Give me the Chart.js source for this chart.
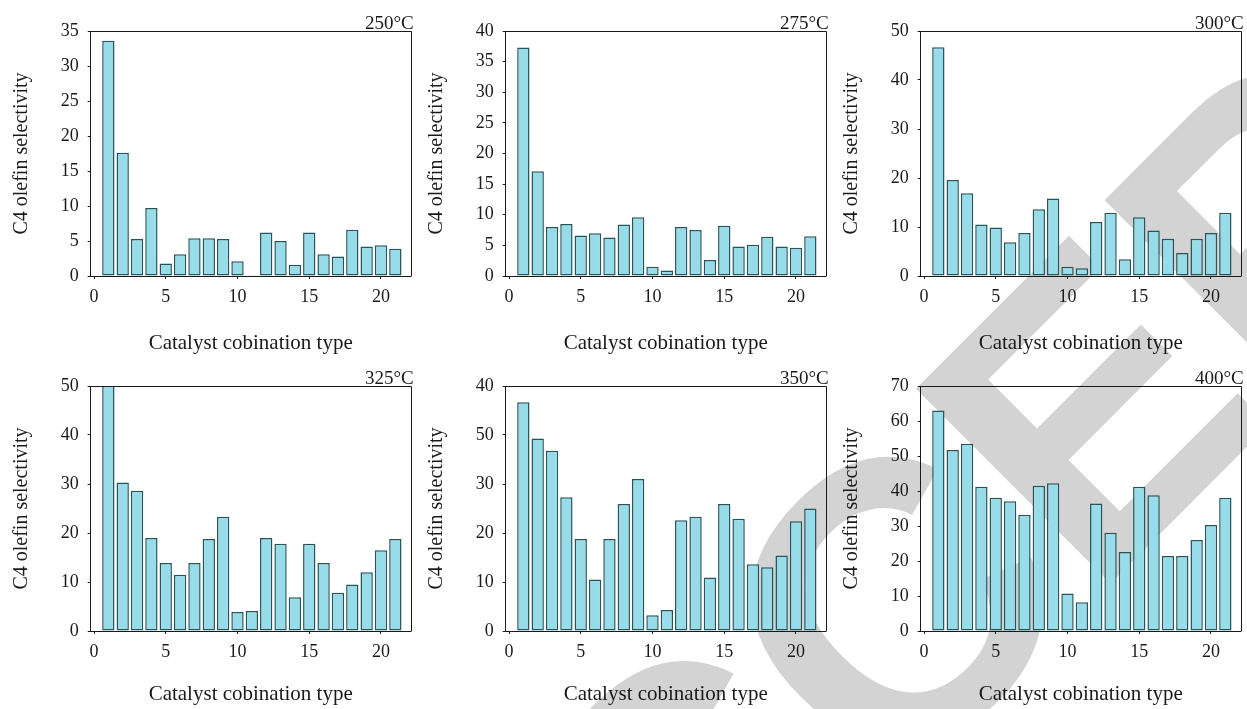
<!DOCTYPE html>
<html>
<head>
<meta charset="utf-8">
<script src="https://cdn.jsdelivr.net/npm/chart.js@4.4.1/dist/chart.umd.min.js"></script>
<style>
  body { margin: 0; background: #fff; width: 1247px; height: 709px; overflow: hidden; position: relative; }
  #wm { position: absolute; left: 0; top: 0; z-index: 0; }
  .panel { position: absolute; width: 415px; height: 356px; z-index: 1; }
</style>
</head>
<body>
<canvas id="wm" width="1247" height="709"></canvas>
<div class="panel" style="left:0;top:0"><canvas id="c0"></canvas></div>
<div class="panel" style="left:415px;top:0"><canvas id="c1"></canvas></div>
<div class="panel" style="left:830px;top:0"><canvas id="c2"></canvas></div>
<div class="panel" style="left:0;top:355px"><canvas id="c3"></canvas></div>
<div class="panel" style="left:415px;top:355px"><canvas id="c4"></canvas></div>
<div class="panel" style="left:830px;top:355px"><canvas id="c5"></canvas></div>
<script>
// catalyst combination numbers (x axis)
const categories = [1, 2, 3, 4, 5, 6, 7, 8, 9, 10, 11, 12, 13, 14, 15, 16, 17, 18, 19, 20, 21];
const xTicks = [0, 5, 10, 15, 20];
const temps = ['250°C', '275°C', '300°C', '325°C', '350°C', '400°C'];

// C4 olefin selectivity
const sel250 = [33.6, 17.6, 5.3, 9.7, 1.8, 3.1, 5.4, 5.4, 5.3, 2.1, 0.1, 6.2, 5.0, 1.6, 6.2, 3.1, 2.8, 6.6, 4.2, 4.4, 3.9];
const sel275 = [37.3, 17.1, 8.0, 8.5, 6.6, 7.0, 6.3, 8.4, 9.6, 1.5, 0.9, 8.0, 7.5, 2.6, 8.2, 4.8, 5.1, 6.4, 4.8, 4.6, 6.5];
const sel300 = [46.7, 19.6, 16.9, 10.5, 9.9, 6.9, 8.8, 13.6, 15.8, 1.9, 1.6, 11.0, 12.9, 3.4, 12.0, 9.3, 7.6, 4.7, 7.6, 8.8, 12.9];
const sel325 = [51.0, 30.3, 28.6, 19.0, 13.9, 11.5, 13.9, 18.8, 23.3, 3.9, 4.1, 19.0, 17.8, 6.9, 17.8, 13.9, 7.8, 9.5, 12.0, 16.5, 18.8];
const sel350 = [46.7, 39.3, 36.8, 27.3, 18.8, 10.5, 18.8, 25.9, 31.0, 3.2, 4.3, 22.6, 23.3, 10.9, 25.9, 22.9, 13.6, 13.0, 15.4, 22.4, 25.0];
const sel400 = [63.0, 51.7, 53.5, 41.2, 38.1, 37.1, 33.2, 41.5, 42.2, 10.7, 8.2, 36.4, 28.1, 22.6, 41.2, 38.8, 21.4, 21.4, 26.0, 30.3, 38.1];

// y ticks per panel (350°C panel has its labels printed out of order in the original)
const yTicks250 = [0, 5, 10, 15, 20, 25, 30, 35];
const yTicks275 = [0, 5, 10, 15, 20, 25, 30, 35, 40];
const yTicks300 = [0, 10, 20, 30, 40, 50];
const yTicks325 = [0, 10, 20, 30, 40, 50];
const yTicks350 = [0, 10, 20, 30, 40, 50];
const yLabels350 = ['0', '10', '20', '30', '50', '40'];
const yTicks400 = [0, 10, 20, 30, 40, 50, 60, 70];

const panels = [
  { temp: temps[0], values: sel250, yTicks: yTicks250 },
  { temp: temps[1], values: sel275, yTicks: yTicks275 },
  { temp: temps[2], values: sel300, yTicks: yTicks300 },
  { temp: temps[3], values: sel325, yTicks: yTicks325 },
  { temp: temps[4], values: sel350, yTicks: yTicks350, yLabels: yLabels350 },
  { temp: temps[5], values: sel400, yTicks: yTicks400 }
];

const FONT = 'Liberation Serif';
const INK = '#1a1a1a';

// grey "ACCEPTED" stamp behind the charts, second C centred near (890, 605)
(function drawStamp() {
  const w = document.getElementById('wm').getContext('2d');
  w.font = 'bold 400px "Liberation Sans"';
  const lead = w.measureText('AC').width + w.measureText('C').width / 2;
  const capMid = w.measureText('C').actualBoundingBoxAscent / 2;
  w.translate(890, 605);
  w.rotate(-Math.PI / 4);
  w.fillStyle = '#d3d3d3';
  w.fillText('ACCEPTED', -lead, capMid);
})();

// box around the plot + temperature in the top right corner
const framePlugin = {
  id: 'frame',
  afterDraw(chart, args, opts) {
    const { ctx, chartArea: a } = chart;
    ctx.save();
    ctx.strokeStyle = INK;
    ctx.lineWidth = 1;
    ctx.beginPath();
    ctx.moveTo(Math.round(a.left) - 0.5, Math.round(a.top) + 0.5);
    ctx.lineTo(Math.round(a.right) + 0.5, Math.round(a.top) + 0.5);
    ctx.lineTo(Math.round(a.right) + 0.5, Math.round(a.bottom) + 0.5);
    ctx.stroke();
    ctx.fillStyle = INK;
    ctx.font = '19px "' + FONT + '"';
    ctx.textAlign = 'right';
    ctx.textBaseline = 'alphabetic';
    ctx.fillText(opts.text, a.right + 3, a.top - 2);
    ctx.restore();
  }
};

panels.forEach((p, i) => {
  const row = Math.floor(i / 3);
  new Chart(document.getElementById('c' + i), {
    type: 'bar',
    plugins: [framePlugin],
    data: {
      datasets: [{
        data: categories.map((c, k) => ({ x: c, y: p.values[k] })),
        backgroundColor: '#97dce8',
        borderColor: '#27555b',
        borderWidth: 1.5,
        borderSkipped: false,
        barPercentage: 0.86,
        categoryPercentage: 1
      }]
    },
    options: {
      responsive: true,
      maintainAspectRatio: false,
      animation: false,
      layout: { padding: { left: 0, top: 31, right: 4.3, bottom: 0 } },
      plugins: {
        legend: { display: false },
        tooltip: { enabled: false },
        frame: { text: p.temp }
      },
      scales: {
        x: {
          type: 'linear',
          min: -0.23,
          max: 22.07,
          offset: false,
          afterBuildTicks: s => { s.ticks = xTicks.map(v => ({ value: v })); },
          afterFit: s => { s.height = 80; },
          ticks: { color: INK, padding: 7, maxRotation: 0, font: { family: FONT, size: 18 } },
          grid: { offset: false, drawOnChartArea: false, drawTicks: true, tickLength: 3, tickColor: INK },
          border: { display: true, color: INK, width: 1 },
          title: {
            display: true,
            text: 'Catalyst cobination type',
            color: INK,
            font: { family: FONT, size: 21 },
            padding: { top: 0, bottom: row === 0 ? 0 : 4 }
          }
        },
        y: {
          min: 0,
          max: p.yTicks[p.yTicks.length - 1],
          afterBuildTicks: s => { s.ticks = p.yTicks.map(v => ({ value: v })); },
          afterFit: s => { s.width = 90.7; },
          ticks: {
            color: INK,
            padding: 9,
            font: { family: FONT, size: 18 },
            callback: (v, k) => p.yLabels ? p.yLabels[k] : String(v)
          },
          grid: { drawOnChartArea: false, drawTicks: true, tickLength: 3, tickColor: INK },
          border: { display: true, color: INK, width: 1 },
          title: {
            display: true,
            text: 'C4 olefin selectivity',
            color: INK,
            font: { family: FONT, size: 20 },
            padding: { top: 10, bottom: 0 }
          }
        }
      }
    }
  });
});
</script>
</body>
</html>
